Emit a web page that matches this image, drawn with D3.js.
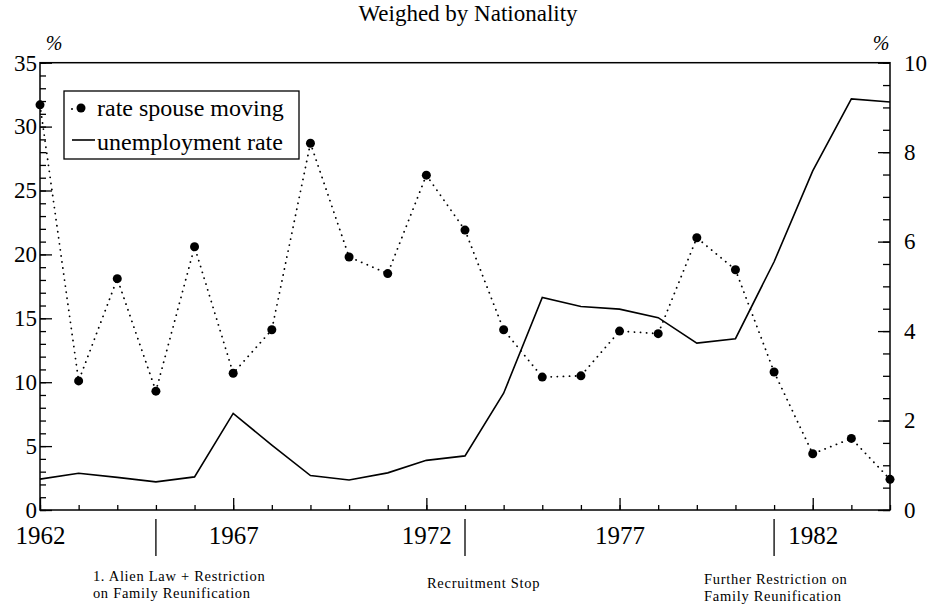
<!DOCTYPE html>
<html>
<head>
<meta charset="utf-8">
<script src="https://cdn.jsdelivr.net/npm/d3@7"></script>
<style>
  body { margin: 0; background: #fff; }
  svg { display: block; font-family: "Liberation Serif", "Times New Roman", serif; }
  .axis text { fill: #000; }
  .axis line { stroke: #000; stroke-width: 1.3; }
</style>
</head>
<body>
<svg id="chart" width="938" height="605"></svg>
<script>
// years on the x axis
const years = d3.range(1962, 1985);

// rate spouse moving (left axis, %)
const spouseRate = [31.7, 10.1, 18.1, 9.3, 20.6, 10.7, 14.1, 28.7, 19.8, 18.5, 26.2, 21.9,
                    14.1, 10.4, 10.5, 14.0, 13.8, 21.3, 18.8, 10.8, 4.4, 5.6, 2.4];

// unemployment rate (right axis, %)
const unemployment = [0.69, 0.82, 0.73, 0.63, 0.74, 2.16, 1.45, 0.77, 0.67, 0.83, 1.11, 1.21,
                      2.61, 4.75, 4.55, 4.49, 4.30, 3.73, 3.83, 5.55, 7.58, 9.19, 9.12];

const leftTicks = [0, 5, 10, 15, 20, 25, 30, 35];
const rightTicks = [0, 2, 4, 6, 8, 10];
const yearLabels = [1962, 1967, 1972, 1977, 1982];

// policy events marked under the x axis
const events = [
    {year: 1965, lines: ["1. Alien Law + Restriction", "on Family Reunification"], dx: -63, y0: 581},
    {year: 1973, lines: ["Recruitment Stop"], dx: -38, y0: 588},
    {year: 1981, lines: ["Further Restriction on", "Family Reunification"], dx: -70, y0: 584}
];

const svg = d3.select("#chart");
const plotL = 40, plotR = 890, plotT = 62.7, plotB = 510;

const x = d3.scaleLinear().domain([1962, 1984]).range([plotL, plotR]);
const yL = d3.scaleLinear().domain([0, 35]).range([plotB, plotT]);
const yR = d3.scaleLinear().domain([0, 10]).range([plotB, plotT]);

// title
svg.append("text")
    .attr("x", 468).attr("y", 21)
    .attr("text-anchor", "middle")
    .style("font-size", "23px")
    .text("Weighed by Nationality");

// % signs
svg.append("text").attr("x", 54).attr("y", 50).attr("text-anchor", "middle")
    .style("font-size", "20px").style("font-style", "italic").text("%");
svg.append("text").attr("x", 881).attr("y", 50).attr("text-anchor", "middle")
    .style("font-size", "20px").style("font-style", "italic").text("%");

// minor ticks
svg.append("g").attr("class", "axis")
    .attr("transform", "translate(" + plotL + ",0)")
    .call(d3.axisLeft(yL).tickValues(d3.range(0, 36)).tickSizeInner(-6).tickSizeOuter(0).tickFormat(""));
svg.append("g").attr("class", "axis")
    .attr("transform", "translate(" + plotR + ",0)")
    .call(d3.axisRight(yR).tickValues(d3.range(0, 10.01, 0.5)).tickSizeInner(-7).tickSizeOuter(0).tickFormat(""));
svg.append("g").attr("class", "axis")
    .attr("transform", "translate(0," + plotB + ")")
    .call(d3.axisBottom(x).tickValues(years).tickSizeInner(-5).tickSizeOuter(0).tickFormat(""));

// major ticks with labels
svg.append("g").attr("class", "axis")
    .attr("transform", "translate(" + plotL + ",0)")
    .call(d3.axisLeft(yL).tickValues(leftTicks).tickSizeInner(-12).tickSizeOuter(0).tickPadding(3))
    .selectAll("text").style("font-size", "23px").style("font-family", "Liberation Serif");
svg.append("g").attr("class", "axis")
    .attr("transform", "translate(" + plotR + ",0)")
    .call(d3.axisRight(yR).tickValues(rightTicks).tickSizeInner(-12).tickSizeOuter(0).tickPadding(14))
    .selectAll("text").style("font-size", "23px").style("font-family", "Liberation Serif");
svg.append("g").attr("class", "axis")
    .attr("transform", "translate(0," + plotB + ")")
    .call(d3.axisBottom(x).tickValues(yearLabels).tickSizeInner(-12).tickSizeOuter(0).tickPadding(16).tickFormat(d3.format("d")))
    .selectAll("text").style("font-size", "25px").style("font-family", "Liberation Serif");

svg.selectAll(".axis .domain").remove();

// frame
svg.append("rect")
    .attr("x", plotL).attr("y", plotT)
    .attr("width", plotR - plotL).attr("height", plotB - plotT)
    .attr("fill", "none").attr("stroke", "#000").attr("stroke-width", 1.5);

// unemployment line
const unempLine = d3.line()
    .x((d, i) => x(years[i]))
    .y(d => yR(d));
svg.append("path")
    .datum(unemployment)
    .attr("d", unempLine)
    .attr("fill", "none").attr("stroke", "#000").attr("stroke-width", 1.6);

// spouse moving, dotted
const spouseLine = d3.line()
    .x((d, i) => x(years[i]))
    .y(d => yL(d));
svg.append("path")
    .datum(spouseRate)
    .attr("d", spouseLine)
    .attr("fill", "none").attr("stroke", "#000").attr("stroke-width", 1.8)
    .attr("stroke-linecap", "round")
    .attr("stroke-dasharray", "0.1 6");
svg.selectAll(".dot")
    .data(spouseRate)
    .enter().append("circle")
    .attr("class", "dot")
    .attr("cx", (d, i) => x(years[i]))
    .attr("cy", d => yL(d))
    .attr("r", 4.5)
    .attr("fill", "#000");

// legend
const legend = svg.append("g");
legend.append("rect")
    .attr("x", 64).attr("y", 91).attr("width", 235).attr("height", 68)
    .attr("fill", "#fff").attr("stroke", "#000").attr("stroke-width", 1.3);
legend.append("circle").attr("cx", 72).attr("cy", 109).attr("r", 1).attr("fill", "#000");
legend.append("circle").attr("cx", 81).attr("cy", 108).attr("r", 4.5).attr("fill", "#000");
legend.append("text").attr("x", 97).attr("y", 116).style("font-size", "24px").text("rate spouse moving");
legend.append("line").attr("x1", 72).attr("x2", 95).attr("y1", 140).attr("y2", 140)
    .attr("stroke", "#000").attr("stroke-width", 1.6);
legend.append("text").attr("x", 97).attr("y", 150).style("font-size", "24px").text("unemployment rate");

// event markers below the axis
const ev = svg.selectAll(".event").data(events).enter().append("g").attr("class", "event");
ev.append("line")
    .attr("x1", d => x(d.year)).attr("x2", d => x(d.year))
    .attr("y1", 519).attr("y2", 556)
    .attr("stroke", "#000").attr("stroke-width", 1.3);
ev.each(function (d) {
    const g = d3.select(this);
    d.lines.forEach((t, i) => {
        g.append("text")
            .attr("x", x(d.year) + d.dx)
            .attr("y", d.y0 + i * 16.5)
            .style("font-size", "14.5px")
            .style("letter-spacing", "0.7px")
            .text(t);
    });
});
</script>
</body>
</html>
